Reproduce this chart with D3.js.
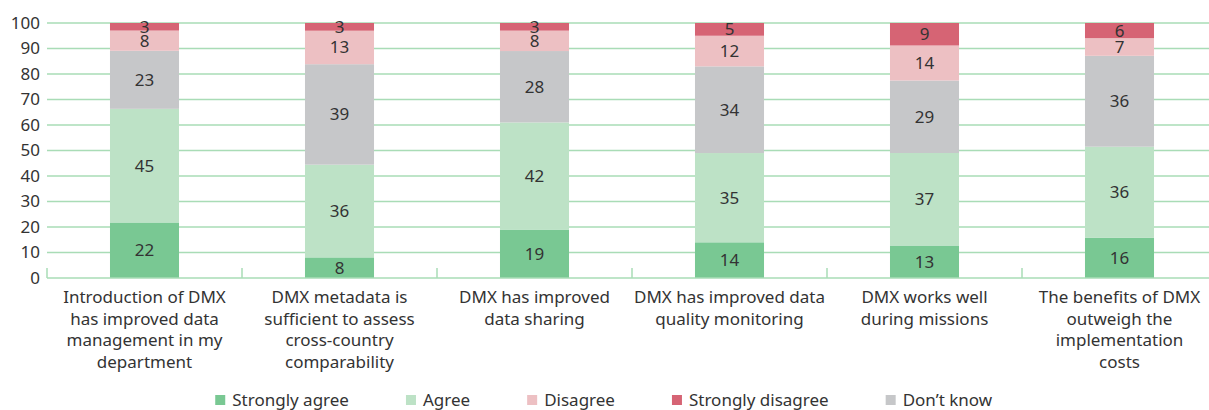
<!DOCTYPE html>
<html>
<head>
<meta charset="utf-8">
<script src="https://cdn.jsdelivr.net/npm/d3@7"></script>
<style>
  body { margin: 0; background: #fff; }
  svg { display: block; font-family: "Noto Sans", "Open Sans", sans-serif; }
</style>
</head>
<body>
<div id="chart"></div>
<script>
const categories = [
  "Introduction of DMX|has improved data|management in my|department",
  "DMX metadata is|sufficient to assess|cross-country|comparability",
  "DMX has improved|data sharing",
  "DMX has improved data|quality monitoring",
  "DMX works well|during missions",
  "The benefits of DMX|outweigh the|implementation|costs"
];
// series in stacking order, bottom to top
const seriesKeys = ["Strongly agree", "Agree", "Don't know", "Disagree", "Strongly disagree"];
const stronglyAgree = [22, 8, 19, 14, 13, 16];
const agree = [45, 36, 42, 35, 37, 36];
const dontKnow = [23, 39, 28, 34, 29, 36];
const disagree = [8, 13, 8, 12, 14, 7];
const stronglyDisagree = [3, 3, 3, 5, 9, 6];
const yTicks = [0, 10, 20, 30, 40, 50, 60, 70, 80, 90, 100];
const legendOrder = ["Strongly agree", "Agree", "Disagree", "Strongly disagree", "Don't know"];
const legendLabels = { "Don't know": "Don\u2019t know" };

const colors = {
  "Strongly agree": "#79c893",
  "Agree": "#bde2c6",
  "Don't know": "#c6c7c9",
  "Disagree": "#edc0c3",
  "Strongly disagree": "#d66474"
};

const W = 1209, H = 410;
const margin = { top: 23, left: 47, right: -8, bottom: 132 };
const plotBottom = H - margin.bottom;

const rows = categories.map((c, i) => ({
  cat: c,
  "Strongly agree": stronglyAgree[i],
  "Agree": agree[i],
  "Don't know": dontKnow[i],
  "Disagree": disagree[i],
  "Strongly disagree": stronglyDisagree[i]
}));

const svg = d3.select("#chart").append("svg").attr("width", W).attr("height", H);

const x = d3.scaleBand().domain(categories).range([margin.left, W - margin.right]).paddingInner(0.646).paddingOuter(0.323);
const xb = d3.scaleBand().domain(categories).range([margin.left, W - margin.right]);
const y = d3.scaleLinear().domain([0, 1]).range([plotBottom, margin.top]);

// gridlines
svg.append("g")
  .selectAll("line")
  .data(yTicks.filter(t => t > 0))
  .join("line")
  .attr("x1", margin.left).attr("x2", W)
  .attr("y1", d => y(d / 100)).attr("y2", d => y(d / 100))
  .attr("stroke", "#a9dcb6").attr("stroke-width", 1.5);

// y axis labels
svg.append("g")
  .selectAll("text")
  .data(yTicks)
  .join("text")
  .attr("x", 40).attr("y", d => y(d / 100))
  .attr("dy", "0.35em")
  .attr("text-anchor", "end")
  .attr("fill", "#333")
  .style("font-size", "17px")
  .text(d => d);

const stack = d3.stack().keys(seriesKeys).offset(d3.stackOffsetExpand);
const stacked = stack(rows);

const layers = svg.append("g")
  .selectAll("g")
  .data(stacked)
  .join("g")
  .attr("fill", d => colors[d.key]);

layers.selectAll("rect")
  .data(d => d)
  .join("rect")
  .attr("x", d => x(d.data.cat))
  .attr("width", x.bandwidth())
  .attr("y", d => y(d[1]))
  .attr("height", d => y(d[0]) - y(d[1]));

// value labels
const labels = svg.append("g");
stacked.forEach(s => {
  labels.selectAll(null)
    .data(s)
    .join("text")
    .attr("x", d => x(d.data.cat) + x.bandwidth() / 2)
    .attr("y", d => (y(d[0]) + y(d[1])) / 2)
    .attr("dy", "0.35em")
    .attr("text-anchor", "middle")
    .attr("fill", "#333")
    .style("font-size", "17px")
    .text(d => d.data[s.key]);
});

// bottom axis
svg.append("line")
  .attr("x1", margin.left).attr("x2", W)
  .attr("y1", plotBottom).attr("y2", plotBottom)
  .attr("stroke", "#a9dcb6").attr("stroke-width", 1.5);
svg.append("g")
  .selectAll("line")
  .data(categories)
  .join("line")
  .attr("x1", d => xb(d)).attr("x2", d => xb(d))
  .attr("y1", plotBottom).attr("y2", plotBottom - 10)
  .attr("stroke", "#a9dcb6").attr("stroke-width", 1.5);

// category labels
const catText = svg.append("g")
  .selectAll("text")
  .data(categories)
  .join("text")
  .attr("x", d => xb(d) + xb.bandwidth() / 2)
  .attr("y", 303)
  .attr("text-anchor", "middle")
  .attr("fill", "#333")
  .style("font-size", "17px");
catText.selectAll("tspan")
  .data(d => d.split("|"))
  .join("tspan")
  .attr("x", function () { return d3.select(this.parentNode).attr("x"); })
  .attr("dy", (d, i) => i === 0 ? 0 : 21.5)
  .text(d => d);

// legend
const legend = svg.append("g");
const items = legend.selectAll("g").data(legendOrder).join("g");
items.append("rect")
  .attr("width", 10).attr("height", 10)
  .attr("y", -5)
  .attr("fill", d => colors[d]);
items.append("text")
  .attr("x", 17).attr("dy", "0.35em")
  .attr("fill", "#333")
  .style("font-size", "17px")
  .text(d => legendLabels[d] || d);
const gap = 57;
let cx = 0;
const offsets = [];
items.each(function () {
  offsets.push(cx);
  cx += this.getBBox().width + gap;
});
const totalW = cx - gap;
const startX = 604 - totalW / 2;
items.attr("transform", (d, i) => `translate(${startX + offsets[i]},400)`);
</script>
</body>
</html>
